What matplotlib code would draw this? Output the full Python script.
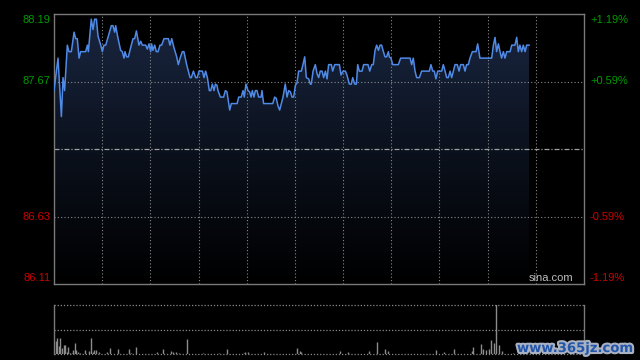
import numpy as np
import matplotlib
matplotlib.use("Agg")
import matplotlib.pyplot as plt
import matplotlib.patheffects as pe
from matplotlib.colors import LinearSegmentedColormap

# trading session in minutes (HK: 09:30-12:00, 13:00-16:00 -> 330 min)
session_len = 330
prev_close = 87.15
price_ticks = [86.11, 86.63, 87.67, 88.19]
pct_labels = ['-1.19%', '-0.59%', '+0.59%', '+1.19%']

minutes = [0, 2.5, 4.6, 5.6, 6.6, 8.3, 9.3, 10.8, 12.5, 13.5, 14.5, 15.6, 16.6, 19.7, 20.8, 21.4,
           23.2, 24.3, 25.3, 26.4, 27.4, 29.1, 30.1, 31.1, 32.2, 33.8, 35.7, 36.7, 37.8, 38.4, 39.9,
           41.5, 42.5, 43.6, 44.2, 45.2, 46.3, 47.7, 49.2, 50.2, 51.3, 52.9, 54.0, 55.0, 57.1, 58.1,
           59.2, 60.2, 60.8, 61.6, 62.7, 63.7, 64.8, 66.0, 67.0, 68.5, 71.2, 72.2, 73.3, 74.7, 76.4,
           77.4, 78.5, 79.9, 80.9, 82.6, 84.7, 85.5, 86.8, 88.2, 89.2, 90.3, 92.4, 93.4, 94.4, 95.5,
           96.7, 97.6, 98.6, 99.6, 100.5, 101.5, 102.1, 103.6, 105.6, 106.7, 107.7, 108.8, 109.4, 110.4,
           114.0, 115.0, 116.6, 117.7, 118.5, 119.5, 120.8, 121.8, 122.7, 123.5, 124.5, 125.4, 126.4,
           127.4, 128.9, 129.5, 130.5, 134.7, 136.2, 137.4, 138.4, 139.5, 140.5, 142.6, 144.0, 145.1,
           146.1, 147.2, 148.2, 149.2, 150.3, 151.3, 152.3, 154.0, 155.0, 156.1, 157.1, 158.6, 159.6,
           160.2, 161.3, 162.7, 163.8, 164.8, 165.8, 166.9, 167.9, 169.0, 170.0, 171.0, 172.7, 173.5,
           174.8, 177.7, 178.7, 180.0, 181.4, 182.4, 183.9, 185.1, 186.0, 187.2, 188.3, 189.1, 190.1,
           191.8, 192.8, 195.5, 196.6, 197.8, 198.8, 199.9, 200.9, 202.0, 203.0, 204.0, 205.1, 206.1,
           207.1, 208.2, 208.8, 209.8, 210.9, 214.4, 215.8, 221.7, 222.7, 223.7, 224.8, 225.8, 227.5,
           228.9, 233.7, 234.7, 235.8, 236.8, 237.8, 238.9, 241.4, 242.4, 243.5, 244.5, 245.5, 246.6,
           247.6, 249.7, 251.1, 252.2, 253.2, 254.9, 255.9, 256.9, 258.0, 259.0, 260.5, 262.8, 263.8,
           265.2, 272.5, 273.6, 274.6, 275.6, 276.7, 277.7, 278.7, 279.8, 280.8, 281.9, 284.0, 285.0,
           287.0, 288.1, 289.1, 290.1, 291.2, 292.2, 293.3, 294.3, 295.8]
prices = [87.60, 87.85, 87.40, 87.70, 87.60, 87.95, 87.90, 87.90, 88.05, 88.00, 88.00, 87.85, 87.90, 87.90, 87.95, 87.90,
          88.15, 88.07, 88.15, 88.15, 88.02, 87.95, 87.90, 87.95, 87.95, 88.02, 88.10, 88.10, 88.05, 88.10, 88.00,
          87.91, 87.90, 87.85, 87.90, 87.86, 87.86, 87.93, 88.00, 88.00, 88.06, 87.95, 87.98, 87.95, 87.95, 87.92,
          87.96, 87.90, 87.96, 87.91, 87.95, 87.90, 87.90, 87.95, 87.95, 88.00, 88.00, 87.95, 88.00, 87.93, 87.86,
          87.80, 87.85, 87.90, 87.90, 87.80, 87.70, 87.70, 87.75, 87.70, 87.70, 87.75, 87.75, 87.70, 87.75, 87.70,
          87.60, 87.60, 87.65, 87.60, 87.65, 87.64, 87.60, 87.55, 87.55, 87.60, 87.59, 87.50, 87.45, 87.50,
          87.50, 87.55, 87.55, 87.60, 87.55, 87.65, 87.60, 87.59, 87.55, 87.60, 87.55, 87.60, 87.60,
          87.55, 87.55, 87.60, 87.50, 87.50, 87.50, 87.55, 87.54, 87.48, 87.45, 87.55, 87.65, 87.55,
          87.60, 87.59, 87.55, 87.55, 87.64, 87.66, 87.75, 87.75, 87.80, 87.86, 87.70, 87.69, 87.65,
          87.65, 87.75, 87.80, 87.73, 87.70, 87.75, 87.75, 87.70, 87.75, 87.69, 87.80, 87.80, 87.75,
          87.80, 87.80, 87.72, 87.75, 87.75, 87.72, 87.65, 87.65, 87.70, 87.65, 87.65, 87.80, 87.75,
          87.75, 87.80, 87.80, 87.75, 87.80, 87.80, 87.91, 87.95, 87.91, 87.95, 87.95, 87.90, 87.86,
          87.86, 87.90, 87.86, 87.85, 87.80, 87.80, 87.85, 87.85, 87.80, 87.85, 87.75, 87.70, 87.70,
          87.75, 87.75, 87.80, 87.75, 87.75, 87.69, 87.75, 87.75, 87.80, 87.75, 87.70, 87.70, 87.75,
          87.70, 87.80, 87.80, 87.75, 87.80, 87.80, 87.75, 87.80, 87.80, 87.85, 87.90, 87.90, 87.96,
          87.85, 87.85, 87.95, 88.01, 87.90, 87.96, 87.90, 87.85, 87.90, 87.85, 87.90, 87.90, 87.95,
          87.95, 88.01, 87.90, 87.95, 87.90, 87.95, 87.90, 87.95, 87.95]

vol_minutes = [1, 2, 3, 4, 5, 6, 7, 8, 9, 10, 11, 12, 13, 14, 15, 16, 19, 22, 23, 24, 25, 26, 28,
               33, 35, 40, 47, 48, 51, 64, 68, 73, 74, 76, 78, 83, 93, 103, 108, 118, 119, 121, 131,
               151, 153, 154, 178, 183, 196, 201, 206, 208, 238, 243, 249, 260, 261, 266, 267, 269,
               271, 272, 274, 275, 277, 279, 286]
volumes = [27, 32, 17, 32, 12, 19, 19, 5, 14, 3, 3, 9, 22, 9, 5, 3, 9, 7, 32, 5, 9, 9, 4,
           5, 12, 10, 10, 3, 14, 5, 10, 7, 5, 5, 3, 30, 2, 3, 10, 3, 5, 5, 4,
           12, 7, 5, 7, 5, 7, 24, 10, 7, 9, 5, 10, 7, 14, 21, 10, 9,
           10, 29, 22, 120, 19, 7, 3]

plt.rcParams['font.family'] = ['Liberation Sans', 'DejaVu Sans']

fig = plt.figure(figsize=(6.4, 3.6), dpi=100, facecolor='black')
ax = fig.add_axes([54 / 640, 1 - 284 / 360, 530 / 640, 270 / 360])
axv = fig.add_axes([54 / 640, 1 - 354.3 / 360, 530 / 640, 49.6 / 360])

lo, hi = price_ticks[0], price_ticks[-1]
ax.set_facecolor('black')
ax.set_xlim(0, session_len)
ax.set_ylim(lo, hi)

# gradient under the price line
cmap = LinearSegmentedColormap.from_list('fill', ['#000000', '#0b111d', '#1a2742'])
grad = np.linspace(0, 1, 256).reshape(-1, 1)
im = ax.imshow(grad, cmap=cmap, origin='lower', extent=[0, session_len, lo, hi],
               aspect='auto', zorder=1, interpolation='bilinear')
poly = ax.fill_between(minutes, prices, lo, facecolor='none', edgecolor='none')
im.set_clip_path(poly.get_paths()[0], transform=ax.transData)

grid_kw = dict(color='#8a8a8a', lw=0.8, ls=(0, (1, 2)), zorder=2)
for m in range(30, session_len, 30):
    ax.axvline(m, **grid_kw)
for p in price_ticks[1:-1]:
    ax.axhline(p, **grid_kw)
ax.axhline(prev_close, color='#a0a0a0', lw=0.9, ls=(0, (4, 1.5, 1, 1.5)), zorder=2)

ax.plot(minutes, prices, color='#4f8ae6', lw=1.1, zorder=3)

for s in ax.spines.values():
    s.set_color('#7a7a7a')
    s.set_linewidth(1)
ax.set_xticks([])
ax.set_yticks([])

# price / percent labels
for i, (p, pct) in enumerate(zip(price_ticks, pct_labels)):
    col = '#009a00' if p > prev_close else '#cc0000'
    dy = 0
    if i == 0:
        dy = 4.6
    elif i == len(price_ticks) - 1:
        dy = -4.4
    ax.annotate(f'{p:.2f}', xy=(0, p), xycoords=('axes fraction', 'data'),
                xytext=(-2.5, dy), textcoords='offset points', ha='right', va='center',
                color=col, fontsize=8, annotation_clip=False)
    ax.annotate(pct, xy=(1, p), xycoords=('axes fraction', 'data'),
                xytext=(4.3, dy), textcoords='offset points', ha='left', va='center',
                color=col, fontsize=8, annotation_clip=False)

ax.annotate('sina.com', xy=(1, 0), xycoords='axes fraction', xytext=(-8, 1),
            textcoords='offset points', ha='right', va='bottom', color='#bdbdbd', fontsize=8)

# volume panel
axv.set_facecolor('black')
axv.set_xlim(0, session_len)
axv.set_ylim(0, 100)
axv.vlines(vol_minutes, 0, volumes, color='#8c8c8c', lw=1)
vgrid = dict(color='#8a8a8a', lw=0.9, ls=(0, (1, 1.5)))
axv.axhline(100, clip_on=False, **vgrid)
axv.axhline(50, **vgrid)
axv.axhline(0, clip_on=False, **vgrid)
axv.spines['top'].set_visible(False)
axv.spines['bottom'].set_visible(False)
for side in ['left', 'right']:
    axv.spines[side].set_color('#7a7a7a')
    axv.spines[side].set_linewidth(1)
axv.set_xticks([])
axv.set_yticks([])

fig.text(517 / 640, 1 - 352 / 360, 'www.365jz.com', color='#2356a8', fontsize=9.5,
         fontweight='bold', family='DejaVu Sans', ha='left', va='baseline',
         path_effects=[pe.withStroke(linewidth=3, foreground='#a9b2c2')])

fig.savefig('out.png', dpi=100, facecolor='black')
